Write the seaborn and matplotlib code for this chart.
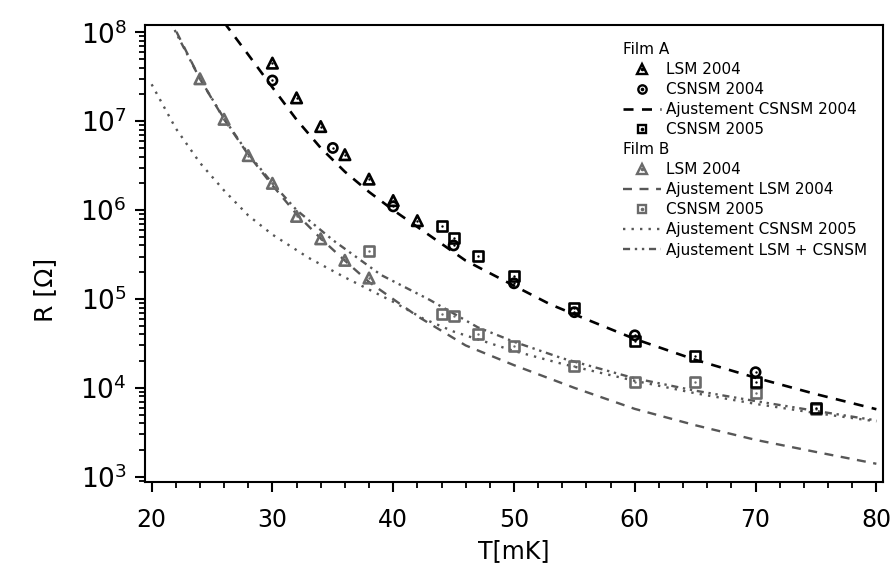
import numpy as np
import pandas as pd
import seaborn as sns
import matplotlib
matplotlib.use("Agg")
import matplotlib.pyplot as plt
from matplotlib.lines import Line2D
from matplotlib.legend_handler import HandlerTuple
from matplotlib.ticker import MultipleLocator, LogLocator, NullFormatter

# Film A - measured points
t_lsm04_a = [30, 32, 34, 36, 38, 40, 42]
r_lsm04_a = [4.5e7, 1.83e7, 8.7e6, 4.2e6, 2.23e6, 1.28e6, 7.6e5]
t_csnsm04_a = [30, 35, 40, 45, 50, 55, 60, 70]
r_csnsm04_a = [2.87e7, 5.0e6, 1.1e6, 4.0e5, 1.5e5, 7.1e4, 3.9e4, 1.5e4]
t_csnsm05_a = [44, 45, 47, 50, 55, 60, 65, 70, 75]
r_csnsm05_a = [6.7e5, 4.8e5, 3.05e5, 1.8e5, 7.9e4, 3.4e4, 2.3e4, 1.15e4, 6.0e3]

# Film B - measured points
t_lsm04_b = [24, 26, 28, 30, 32, 34, 36, 38]
r_lsm04_b = [3.0e7, 1.05e7, 4.1e6, 2.0e6, 8.5e5, 4.75e5, 2.72e5, 1.72e5]
t_csnsm05_b = [38, 44, 45, 47, 50, 55, 60, 65, 70, 75]
r_csnsm05_b = [3.44e5, 6.85e4, 6.4e4, 4.08e4, 2.97e4, 1.75e4, 1.15e4, 1.15e4, 8.8e3, 5.8e3]

# fitted curves
t_fit_a = [26, 27, 28, 30, 32, 34, 36, 38, 40, 43, 46, 50, 53, 56, 60, 65, 70, 75, 80]
r_fit_a = [1.29e8, 8.5e7, 5.6e7, 2.4e7, 1.04e7, 5.0e6, 2.7e6, 1.6e6, 1.0e6, 5.2e5,
           2.7e5, 1.41e5, 8.7e4, 5.9e4, 3.55e4, 2.07e4, 1.3e4, 8.5e3, 5.75e3]

t_fit_lsm_b = [21.5, 22, 24, 26, 28, 30, 32, 34, 36, 38, 42, 46, 50, 55, 60, 65, 70, 75, 80]
r_fit_lsm_b = [1.5e8, 1.05e8, 3.0e7, 1.05e7, 4.2e6, 1.9e6, 9.0e5, 4.8e5, 2.7e5, 1.55e5,
               6.4e4, 3.0e4, 1.8e4, 1.0e4, 5.8e3, 3.8e3, 2.6e3, 1.9e3, 1.4e3]

t_fit_csnsm_b = [20, 22, 24, 26, 28, 30, 33, 36, 40, 42.5, 45, 50, 54, 60, 65, 70, 75, 80]
r_fit_csnsm_b = [2.6e7, 8.3e6, 3.4e6, 1.66e6, 8.7e5, 5.3e5, 2.9e5, 1.75e5, 9.3e4, 6.0e4,
                 4.3e4, 2.6e4, 1.86e4, 1.2e4, 8.7e3, 6.6e3, 5.2e3, 4.2e3]

t_fit_both_b = [21.5, 22, 24, 26, 28, 30, 32, 35, 39, 43, 47, 50, 54, 60, 65, 70, 75, 80]
r_fit_both_b = [1.4e8, 1.0e8, 3.0e7, 1.07e7, 4.3e6, 2.0e6, 1.0e6, 4.6e5, 1.86e5, 9.8e4,
                4.8e4, 3.3e4, 2.15e4, 1.28e4, 9.3e3, 7.1e3, 5.5e3, 4.3e3]

sns.set_style("ticks")
plt.rcParams['font.family'] = ['DejaVu Sans']
plt.rcParams['mathtext.fontset'] = 'dejavusans'
plt.rcParams['text.color'] = 'black'
plt.rcParams['axes.labelcolor'] = 'black'
plt.rcParams['xtick.color'] = 'black'
plt.rcParams['ytick.color'] = 'black'

black = '#000000'
grey_line = '#575757'
grey_mark = '#6a6a6a'

fig = plt.figure(figsize=(8.96, 5.66), dpi=100)
ax = fig.add_axes([0.1618, 0.1489, 0.8237, 0.8074])

# curves
sns.lineplot(x=t_fit_a, y=r_fit_a, ax=ax, color=black, lw=1.9,
             linestyle=(0, (3.8, 3.2)), sort=False, estimator=None)
sns.lineplot(x=t_fit_lsm_b, y=r_fit_lsm_b, ax=ax, color=grey_line, lw=1.7,
             linestyle=(0, (3.8, 3.2)), sort=False, estimator=None)
sns.lineplot(x=t_fit_csnsm_b, y=r_fit_csnsm_b, ax=ax, color=grey_line, lw=1.7,
             linestyle=(0, (1, 2.6)), sort=False, estimator=None)
sns.lineplot(x=t_fit_both_b, y=r_fit_both_b, ax=ax, color=grey_line, lw=1.7,
             linestyle=(0, (3, 2, 1, 2, 1, 2)), sort=False, estimator=None)


def points(t, r, marker, col, s):
    sns.scatterplot(x=t, y=r, ax=ax, marker=marker, s=s, facecolors='none',
                    edgecolor=col, linewidth=1.9, zorder=5)
    sns.scatterplot(x=t, y=r, ax=ax, marker='o', s=3, color=col,
                    edgecolor=col, linewidth=0, zorder=6)


points(t_lsm04_b, r_lsm04_b, '^', grey_mark, 58)
points(t_csnsm05_b, r_csnsm05_b, 's', grey_mark, 52)
points(t_lsm04_a, r_lsm04_a, '^', black, 58)
points(t_csnsm04_a, r_csnsm04_a, 'o', black, 44)
points(t_csnsm05_a, r_csnsm05_a, 's', black, 52)

ax.set_yscale('log')
ax.set_xlim(19.45, 80.55)
ax.set_ylim(10 ** 2.944, 10 ** 8.085)
ax.xaxis.set_major_locator(MultipleLocator(10))
ax.xaxis.set_minor_locator(MultipleLocator(2))
ax.yaxis.set_major_locator(LogLocator(base=10, numticks=10))
ax.yaxis.set_minor_locator(LogLocator(base=10, subs=np.arange(2, 10), numticks=20))
ax.yaxis.set_minor_formatter(NullFormatter())
ax.tick_params(which='major', direction='out', length=7, width=1.5)
ax.tick_params(which='minor', direction='out', length=4, width=1.3)
ax.tick_params(axis='x', which='major', labelsize=17, pad=12)
ax.tick_params(axis='y', which='major', labelsize=19, pad=6)
ax.tick_params(top=False, right=False)
for sp in ax.spines.values():
    sp.set_visible(True)
    sp.set_linewidth(1.5)
    sp.set_color('black')

ax.set_xlabel('T[mK]', fontsize=17)
ax.xaxis.set_label_coords(0.5, -0.125)
ax.set_ylabel('R [Ω]', fontsize=18)
ax.yaxis.set_label_coords(-0.119, 0.42)

# legend with group headers
def pt_handle(marker, col, ms):
    return (Line2D([], [], ls='', marker=marker, mfc='none', mec=col, mew=1.7, ms=ms),
            Line2D([], [], ls='', marker='o', color=col, ms=1.6))


handles = [
    Line2D([], [], ls='', marker=''),
    pt_handle('^', black, 6.5),
    pt_handle('o', black, 6),
    Line2D([], [], color=black, lw=1.9, linestyle=(0, (3.8, 3.2))),
    pt_handle('s', black, 6),
    Line2D([], [], ls='', marker=''),
    pt_handle('^', grey_mark, 6.5),
    Line2D([], [], color=grey_line, lw=1.7, linestyle=(0, (3.8, 3.2))),
    pt_handle('s', grey_mark, 6),
    Line2D([], [], color=grey_line, lw=1.7, linestyle=(0, (1, 2.6))),
    Line2D([], [], color=grey_line, lw=1.7, linestyle=(0, (3, 2, 1, 2, 1, 2))),
]
labels = ['Film A', 'LSM 2004', 'CSNSM 2004', 'Ajustement CSNSM 2004', 'CSNSM 2005',
          'Film B', 'LSM 2004', 'Ajustement LSM 2004', 'CSNSM 2005',
          'Ajustement CSNSM 2005', 'Ajustement LSM + CSNSM']
leg = ax.legend(handles, labels, handler_map={tuple: HandlerTuple(ndivide=1, pad=0)},
                loc='upper left', bbox_to_anchor=(0.648, 0.962), frameon=False,
                fontsize=11, labelspacing=0.33, handlelength=2.5, handletextpad=0.3,
                borderpad=0, borderaxespad=0)
for col in leg._legend_handle_box.get_children():
    for row in col.get_children():
        kids = row.get_children()
        if len(kids) == 2 and kids[1].get_text() in ('Film A', 'Film B'):
            row._children = [kids[1]]

fig.savefig('out.png', dpi=100)
